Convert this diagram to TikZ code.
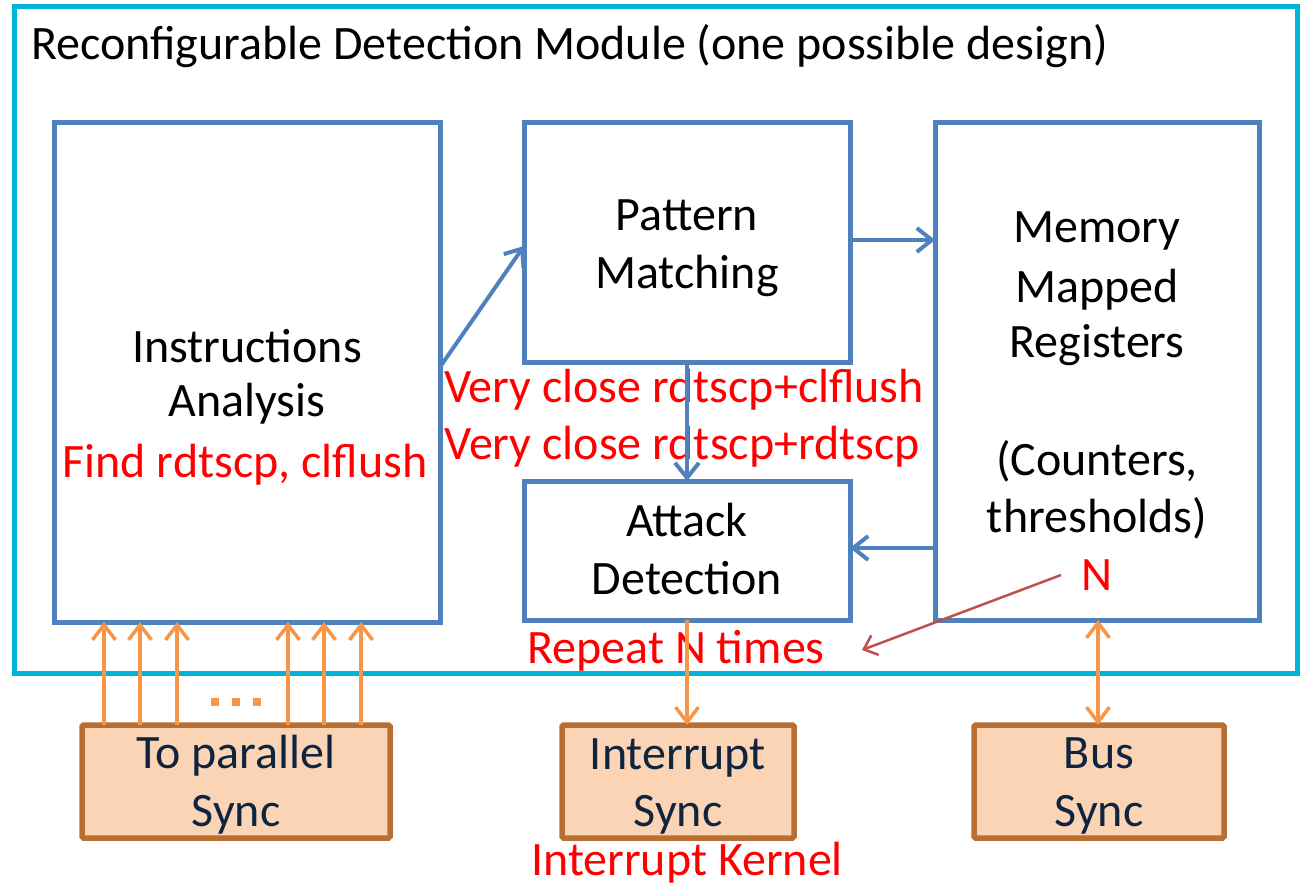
\documentclass[tikz,border=0pt]{standalone}
\usepackage{fontspec}
\setmainfont{Carlito}
\usetikzlibrary{arrows.meta}
\definecolor{cyanframe}{RGB}{0,180,215}
\definecolor{boxblue}{RGB}{79,129,189}
\definecolor{arrorange}{RGB}{247,150,70}
\definecolor{syncbrown}{RGB}{183,111,52}
\definecolor{syncfill}{RGB}{250,212,180}
\definecolor{synctext}{RGB}{15,36,62}
\definecolor{redarrow}{RGB}{192,80,77}
\definecolor{labelred}{RGB}{255,0,0}
\begin{document}
\begin{tikzpicture}[x=1pt,y=-1pt,
  bluebox/.style={draw=boxblue,line width=5pt,inner sep=0pt,outer sep=0pt},
  syncbox/.style={draw=syncbrown,fill=syncfill,line width=5.5pt,inner sep=0pt,outer sep=0pt,rounded corners=1.5pt},
  txt/.style={inner sep=0pt,anchor=base,font=\fontsize{48}{58}\selectfont},
  redtxt/.style={txt,text=labelred},
  synctxt/.style={txt,text=synctext},
  bluearrow/.style={draw=boxblue,line width=4pt,-{Straight Barb[length=15pt,width=24pt,line width=4pt]}},
  orarrow/.style={draw=arrorange,line width=3.5pt,-{Straight Barb[length=15pt,width=23pt,line width=3.5pt]}},
  ordouble/.style={draw=arrorange,line width=3.5pt,{Straight Barb[length=15pt,width=23pt,line width=3.5pt]}-{Straight Barb[length=15pt,width=23pt,line width=3.5pt]}},
  redarr/.style={draw=redarrow,line width=2.5pt,-{Straight Barb[length=12pt,width=21pt,line width=2.5pt]}}
]
\useasboundingbox (0,0) rectangle (1305,885);
% outer frame
\node[draw=cyanframe,line width=5pt,inner sep=0pt,outer sep=0pt,minimum width=1283pt,minimum height=666pt] (frame) at (655.5,340) {};
\node[txt,anchor=base west,font=\fontsize{48}{58}\selectfont] (title) at (31,60) {Reconfigurable Detection Module (one possible design)};

% boxes
\node[bluebox,minimum width=386pt,minimum height=499pt] (ia) at (247,372.5) {};
\node[bluebox,minimum width=326pt,minimum height=239pt] (pm) at (687,242.5) {};
\node[bluebox,minimum width=324pt,minimum height=497pt] (mmr) at (1097,371.5) {};
\node[bluebox,minimum width=326pt,minimum height=139pt] (ad) at (687,550.5) {};

% box texts
\node[txt] (ia1) at (247,362) {Instructions};
\node[txt] (ia2) at (247,416) {Analysis};
\node[redtxt] (ia3) at (245,477) {Find rdtscp, clflush};

\node[txt] (pm1) at (687,231) {Pattern};
\node[txt] (pm2) at (687,288) {Matching};

\node[txt] (mm1) at (1097,243) {Memory};
\node[txt] (mm2) at (1097,302) {Mapped};
\node[txt] (mm3) at (1097,357) {Registers};
\node[txt] (mm4) at (1097,475) {(Counters,};
\node[txt] (mm5) at (1097,532) {thresholds)};
\node[redtxt] (nn) at (1097,590) {N};

\node[txt] (ad1) at (687,536) {Attack};
\node[txt] (ad2) at (687,594) {Detection};

\node[redtxt] (vc1) at (684,402) {Very close rdtscp+clflush};
\node[redtxt] (vc2) at (682,459) {Very close rdtscp+rdtscp};
\node[redtxt] (rep) at (676,663) {Repeat N times};

% sync boxes
\node[syncbox,minimum width=308pt,minimum height=113pt] (ps) at (236,781.5) {};
\node[syncbox,minimum width=232pt,minimum height=113pt] (is) at (678,781.5) {};
\node[syncbox,minimum width=250pt,minimum height=113pt] (bs) at (1099,781.5) {};
\node[synctxt] (ps1) at (236,768) {To parallel};
\node[synctxt] (ps2) at (236,826) {Sync};
\node[synctxt] (is1) at (678,769) {Interrupt};
\node[synctxt] (is2) at (678,826) {Sync};
\node[synctxt] (bs1) at (1099,768) {Bus};
\node[synctxt] (bs2) at (1099,826) {Sync};
\node[redtxt] (ik) at (687,875) {Interrupt Kernel};

% blue connectors
\draw[bluearrow] (ia.east |- 0,367) -- (pm.west |- 0,246);
\draw[bluearrow] (pm.east |- 0,240) -- (mmr.west |- 0,240);
\draw[bluearrow] (pm.south) -- (ad.north);
\draw[bluearrow] (mmr.west |- 0,548) -- (ad.east |- 0,548);

% red connector
\coordinate (rstart) at (1061,575);
\coordinate (rend) at (862,650);
\draw[redarr] (rstart) -- (rend);

% orange connectors
\foreach \x in {104,140,177,288,324,361}
  \draw[orarrow] (\x,0 |- ps.north) -- (\x,0 |- ia.south);
\foreach \x in {215,236,257}
  \fill[arrorange] (\x-4,698) rectangle (\x+4,706);
\draw[orarrow] (ad.south) -- (ad.south |- is.north);
\draw[ordouble] (mmr.south -| 1098,0) -- (bs.north -| 1098,0);
\end{tikzpicture}
\end{document}
